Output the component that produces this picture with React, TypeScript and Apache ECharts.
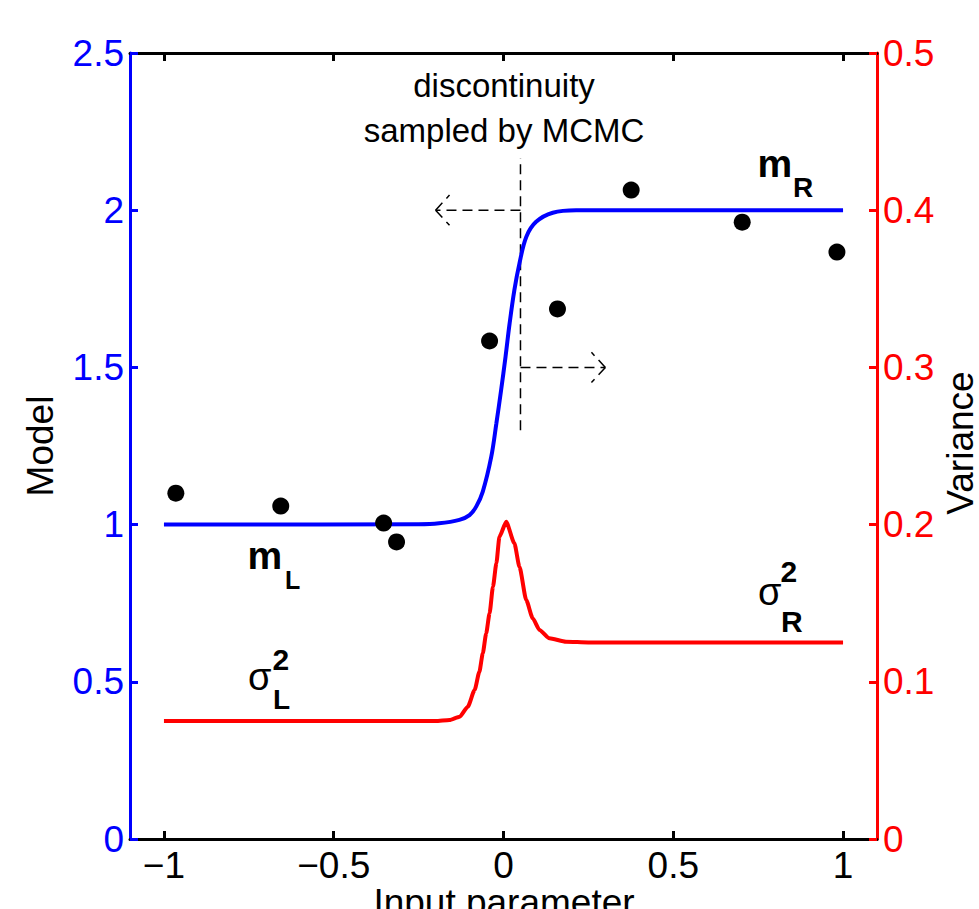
import React, { useEffect, useRef } from "react";
import * as echarts from "echarts";

// ---- data ----
const xTickValues = [-1, -0.5, 0, 0.5, 1];

const modelX = [-1.0, -0.25, -0.19, -0.13, -0.1, -0.08, -0.061, -0.036, -0.021, -0.007, 0.006, 0.018, 0.032, 0.047, 0.067, 0.096, 0.145, 0.214, 1.0];
const modelY = [1.0, 1.001, 1.004, 1.015, 1.03, 1.058, 1.105, 1.216, 1.322, 1.428, 1.534, 1.64, 1.746, 1.831, 1.915, 1.963, 1.992, 2.0, 2.0];

const varianceX = [-1.0, -0.2, -0.159, -0.129, -0.105, -0.085, -0.071, -0.061, -0.051, -0.041, -0.031, -0.021, -0.012, 0.008, 0.032, 0.047, 0.067, 0.086, 0.106, 0.135, 0.184, 0.25, 1.0];
const varianceY = [0.075, 0.075, 0.0757, 0.0778, 0.0842, 0.0948, 0.1064, 0.1181, 0.1308, 0.1436, 0.1605, 0.1754, 0.1923, 0.2018, 0.1881, 0.1732, 0.152, 0.1404, 0.133, 0.1277, 0.1255, 0.125, 0.125];

const obsX = [-0.965, -0.656, -0.353, -0.315, -0.041, 0.159, 0.376, 0.703, 0.982];
const obsY = [1.1, 1.059, 1.005, 0.945, 1.584, 1.686, 2.064, 1.962, 1.867];

const markerX = [0.05, 0.05];
const markerY = [1.3, 2.166];
const leftShaftX = [0.05, -0.2];
const leftShaftY = [2.0, 2.0];
const leftHeadArmX = [-0.2, -0.159];
const leftHeadArmUpY = [2.0, 2.048];
const leftHeadArmDownY = [2.0, 1.952];
const rightShaftX = [0.05, 0.3];
const rightShaftY = [1.5, 1.5];
const rightHeadArmX = [0.3, 0.259];
const rightHeadArmUpY = [1.5, 1.548];
const rightHeadArmDownY = [1.5, 1.452];

const FONT = "'Liberation Sans', Arial, Helvetica, sans-serif";
const BLUE = "#0000ff";
const RED = "#ff0000";

const pairs = (xs: number[], ys: number[]) => xs.map((x, i) => [x, ys[i]]);

const dashedSeries = (xs: number[], ys: number[]) => ({
  type: "line",
  xAxisIndex: 0,
  yAxisIndex: 0,
  data: pairs(xs, ys),
  showSymbol: false,
  symbol: "none",
  silent: true,
  lineStyle: { color: "#000", width: 1.5, type: [10, 6] },
  z: 3,
});

const txt = (
  text: string,
  x: number,
  y: number,
  fontSize: number,
  opts: any = {}
) => ({
  type: "text",
  x,
  y,
  rotation: opts.rotation || 0,
  silent: true,
  z: 10,
  style: {
    text,
    fontSize,
    fontFamily: FONT,
    fontWeight: opts.bold ? "bold" : "normal",
    fill: opts.color || "#000",
    align: opts.align || "left",
    verticalAlign: "middle",
  },
});

export default function App() {
  const ref = useRef<HTMLDivElement>(null);
  useEffect(() => {
    if (!ref.current) return;
    const chart = echarts.init(ref.current, null, { renderer: "svg" });
    const fmtX = (v: number) => (v < 0 ? "\u2212" : "") + String(Math.abs(Math.round(v * 10) / 10));
    const fmtY = (v: number) => String(Math.round(v * 10) / 10);
    chart.setOption({
      animation: false,
      backgroundColor: "#fff",
      grid: { left: 130, right: 102, top: 53, bottom: 70, containLabel: false },
      xAxis: [
        {
          type: "value",
          position: "bottom",
          min: -1.1,
          max: 1.1,
          axisLine: { show: true, onZero: false, lineStyle: { color: "#000", width: 3 } },
          axisTick: { show: true, inside: true, length: 8, customValues: xTickValues, lineStyle: { color: "#000", width: 3 } },
          axisLabel: { show: true, customValues: xTickValues, formatter: fmtX, color: "#000", fontSize: 37, fontFamily: FONT, margin: 8 },
          splitLine: { show: false },
        },
        {
          type: "value",
          position: "top",
          min: -1.1,
          max: 1.1,
          axisLine: { show: true, onZero: false, lineStyle: { color: "#000", width: 3 } },
          axisTick: { show: true, inside: true, length: 8, customValues: xTickValues, lineStyle: { color: "#000", width: 3 } },
          axisLabel: { show: false },
          splitLine: { show: false },
        },
      ],
      yAxis: [
        {
          type: "value",
          position: "left",
          min: 0,
          max: 2.5,
          interval: 0.5,
          axisLine: { show: true, onZero: false, lineStyle: { color: BLUE, width: 3 } },
          axisTick: { show: true, inside: true, length: 8, lineStyle: { color: BLUE, width: 3 } },
          axisLabel: { formatter: fmtY, color: BLUE, fontSize: 37, fontFamily: FONT, margin: 6 },
          splitLine: { show: false },
        },
        {
          type: "value",
          position: "right",
          min: 0,
          max: 0.5,
          interval: 0.1,
          axisLine: { show: true, onZero: false, lineStyle: { color: RED, width: 3 } },
          axisTick: { show: true, inside: true, length: 8, lineStyle: { color: RED, width: 3 } },
          axisLabel: { formatter: fmtY, color: RED, fontSize: 37, fontFamily: FONT, margin: 6 },
          splitLine: { show: false },
        },
      ],
      series: [
        {
          type: "line",
          name: "Model",
          xAxisIndex: 0,
          yAxisIndex: 0,
          data: pairs(modelX, modelY),
          showSymbol: false,
          symbol: "none",
          smooth: 0.35,
          lineStyle: { color: BLUE, width: 4 },
          z: 4,
        },
        {
          type: "line",
          name: "Variance",
          xAxisIndex: 0,
          yAxisIndex: 1,
          data: pairs(varianceX, varianceY),
          showSymbol: false,
          symbol: "none",
          smooth: 0.2,
          smoothMonotone: "x",
          lineStyle: { color: RED, width: 4 },
          z: 4,
        },
        {
          type: "scatter",
          name: "Observations",
          xAxisIndex: 0,
          yAxisIndex: 0,
          data: pairs(obsX, obsY),
          symbol: "circle",
          symbolSize: 17,
          itemStyle: { color: "#000", opacity: 1 },
          z: 5,
        },
        dashedSeries(markerX, markerY),
        dashedSeries(leftShaftX, leftShaftY),
        dashedSeries(leftHeadArmX, leftHeadArmUpY),
        dashedSeries(leftHeadArmX, leftHeadArmDownY),
        dashedSeries(rightShaftX, rightShaftY),
        dashedSeries(rightHeadArmX, rightHeadArmUpY),
        dashedSeries(rightHeadArmX, rightHeadArmDownY),
      ],
      graphic: [
        txt("discontinuity", 504, 85, 33, { align: "center" }),
        txt("sampled by MCMC", 504, 130, 33, { align: "center" }),
        txt("Model", 40, 446, 37, { align: "center", rotation: Math.PI / 2 }),
        txt("Variance", 960, 443, 37, { align: "center", rotation: Math.PI / 2 }),
        txt("Input parameter", 504, 902, 37, { align: "center" }),
        // m_L
        txt("m", 247.5, 555.5, 39, { bold: true }),
        txt("L", 285, 580.3, 25, { bold: true }),
        // sigma_L^2
        txt("\u03c3", 248, 677, 38),
        txt("2", 272.5, 659.6, 30, { bold: true }),
        txt("L", 273, 699.3, 28, { bold: true }),
        // m_R
        txt("m", 757.5, 163.5, 39, { bold: true }),
        txt("R", 793, 187.3, 28, { bold: true }),
        // sigma_R^2
        txt("\u03c3", 758, 592, 38),
        txt("2", 780.5, 571.6, 30, { bold: true }),
        txt("R", 781, 621.6, 30, { bold: true }),
      ],
    });
    return () => chart.dispose();
  }, []);
  return (
    <div
      ref={ref}
      style={{ position: "fixed", left: 0, top: 0, width: 979, height: 909, background: "#fff" }}
    />
  );
}
